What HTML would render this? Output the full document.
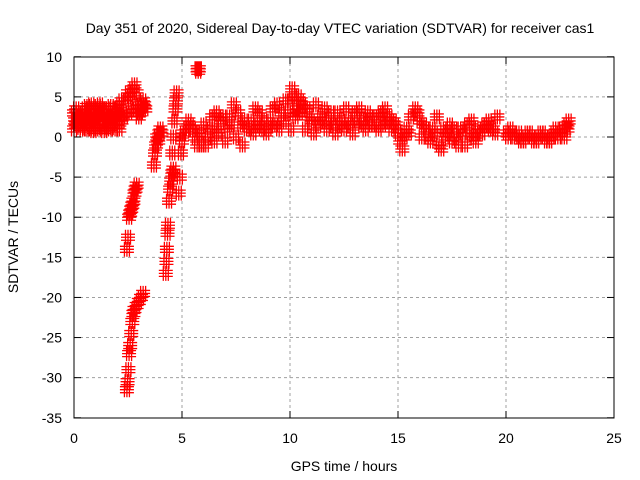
<!DOCTYPE html>
<html><head><meta charset="utf-8"><style>
body{margin:0;background:#fff}
svg{display:block;font-family:"Liberation Sans",sans-serif}
</style></head><body>
<svg id="c" width="640" height="480">
<rect width="640" height="480" fill="#fff"/>
<g id="grid"></g>
<g id="pts"></g>
<rect x="74" y="57" width="540" height="361" fill="none" stroke="#000" stroke-width="1"/>
<g id="ticks"></g>
<text x="340" y="33" text-anchor="middle" font-size="14">Day 351 of 2020, Sidereal Day-to-day VTEC variation (SDTVAR) for receiver cas1</text>
<text x="344" y="471" text-anchor="middle" font-size="14">GPS time / hours</text>
<text transform="translate(18,237) rotate(-90)" text-anchor="middle" font-size="14">SDTVAR / TECUs</text>
</svg>
<script>
const xTicks=[0,5,10,15,20,25];
const yTicks=[-35,-30,-25,-20,-15,-10,-5,0,5,10];
const times=[0,0.1,0.2,0.3,0.4,0.5,0.6,0.7,0.8,0.9,1.0,1.1,1.2,1.3,1.4,1.5,1.6,1.7,1.8,1.9,2.0,2.1,2.2,
0,0.1,0.2,0.3,0.4,0.5,0.6,0.7,0.8,0.9,1.0,1.1,1.2,1.3,1.4,1.5,1.6,1.7,1.8,1.9,2.0,2.1,2.2,
0.05,0.25,0.45,0.65,0.85,1.05,1.25,1.45,1.65,1.85,2.05,
2.3,2.4,2.5,2.6,2.7,2.8,2.9,2.35,2.55,2.75,2.95,3.0,3.1,3.2,3.3,3.05,3.25,
2.45,2.5,2.55,2.6,2.65,2.7,2.75,2.8,2.85,2.9,
2.45,2.48,2.52,2.55,2.6,2.65,2.7,2.75,2.8,2.9,3.0,3.1,3.2,
3.7,3.75,3.8,3.85,3.9,3.95,4.0,4.05,
4.25,4.28,4.3,4.33,4.35,4.4,4.45,4.5,4.55,4.6,
4.55,4.6,4.65,4.7,4.72,4.75,
4.85,4.9,4.95,5.0,5.05,
5.2,5.3,5.4,5.5,5.6,5.72,5.78,5.75,
5.7,5.8,5.9,6.0,6.1,6.2,6.3,6.4,6.5,
6.6,6.8,7.0,7.2,7.4,7.6,7.8,8.0,8.2,8.4,8.6,8.8,9.0,9.2,9.4,9.6,9.8,
6.5,6.7,6.9,7.1,7.3,7.5,7.7,7.9,8.1,8.3,8.5,8.7,8.9,9.1,9.3,9.5,9.7,9.9,
10.0,10.1,10.2,10.3,10.4,10.5,10.05,10.25,10.45,
10.6,10.8,11.0,11.2,11.4,11.6,11.8,12.0,12.2,12.4,12.6,12.8,13.0,13.2,13.4,13.6,13.8,14.0,14.2,14.4,14.6,14.8,
10.7,10.9,11.1,11.3,11.5,11.7,11.9,12.1,12.3,12.5,12.7,12.9,13.1,13.3,13.5,13.7,13.9,14.1,14.3,14.5,14.7,14.9,
15.0,15.1,15.2,15.3,15.4,15.5,15.6,15.8,15.9,
16.0,16.2,16.4,16.6,16.8,17.0,17.2,17.4,17.6,17.8,18.0,18.2,18.4,18.6,18.8,19.0,19.2,19.4,19.6,
16.1,16.3,16.5,16.7,16.9,17.1,17.3,17.5,17.7,17.9,18.1,18.3,18.5,18.7,18.9,19.1,19.3,19.5,
20.0,20.2,20.4,20.6,20.8,21.0,21.2,21.4,21.6,21.8,22.0,22.2,22.4,22.6,22.8,22.9,
20.1,20.3,20.5,20.7,20.9,21.1,21.3,21.5,21.7,21.9,22.1,22.3,22.5,22.7,22.85];
const values=[3,3.5,3,2.5,3,3.5,3.8,3.5,4,3.5,3,3.8,4,3.5,3,3.5,3,3.8,3.5,3,3.5,4,4.5,
1,1.5,2,1.2,1,1.5,1,1.8,1,0.8,1.5,1,2,1.2,0.8,1.5,1,1.2,2,1,1.5,1,2,
2,2.5,2,2.5,2.2,2.5,3,2,2.5,2.3,2.8,
3,4.5,5.5,5,6,6.5,5.5,2.5,3,3.5,4,2.5,3.5,4.5,3.5,3,4,
-14,-12.5,-10,-9.5,-9,-8.5,-8,-7,-6.5,-6,
-31.5,-30.5,-29,-27,-26,-24.5,-23,-22,-21.5,-21,-20.5,-20,-19.5,
-3.5,-2,-1,0,-0.5,0.5,1,0.5,
-17,-15.5,-14,-12,-11,-8,-6.5,-5.5,-4.5,-4,
-2,0,2,3.5,4.5,5.5,
-7,-5,-2,-0.5,0.5,
1,2,1.5,1,0,8.5,8.5,8.2,
-1,0.5,-1,1.5,-1,0,1,2.5,-0.5,
3,2,-0.5,2.5,4,3,-1,1,2,3.5,3,2,1,3.5,4,3,4.5,
1,0.5,2.5,1,1.5,0,1.5,2,1,0.5,1.5,1,0.5,2,1.5,1,2,3,
4.5,6,5,3.5,5,4.5,1,2.5,3,
4,3.5,2,4,2.5,3.5,2,1.5,3,2,3.5,1.5,3,3.5,2,3,1.5,2.5,3,3.5,2.5,2,
1,2.5,0.5,1.5,2,1,3,0.5,1.5,1,2,0.5,2,1.5,1,2.5,1.5,1,1.5,2,1,1.5,
0.5,-0.5,-1.5,0,1,0.5,2.5,3.5,3,
2,1.5,0,1,2.5,-1.5,0,1.5,1,-1,0.5,1.5,2,-0.5,0.5,1.5,2,1,2.5,
0,1,-0.5,0.5,-1,1,0.5,-0.5,0,1,-1,0.5,0,1,0.5,1.5,1,0.5,
0.5,1,0,0.5,-0.5,0.5,0,-0.5,0.5,0,-0.5,0.5,0,1,1.5,2,
0,0.5,0,-0.5,0,0.5,-0.5,0,0.5,-0.5,0,1,0.5,0,1];
const X=t=>74+t*(540/25);
const Y=v=>137-v*(361/45);
const ns="http://www.w3.org/2000/svg";
const grid=document.getElementById('grid'),ticks=document.getElementById('ticks'),pts=document.getElementById('pts');
function mk(tag,at,parent){const e=document.createElementNS(ns,tag);for(const k in at)e.setAttribute(k,at[k]);parent.appendChild(e);return e;}
xTicks.forEach(t=>{
  if(t>0&&t<25){const g=mk('line',{x1:X(t),x2:X(t),y1:57,y2:418,stroke:'#a0a0a0','stroke-dasharray':'3,3'},grid);
  
  }
  const l=mk('line',{x1:X(t),x2:X(t),y1:418,y2:411,stroke:'#000'},ticks);
  
  
  const l2=mk('line',{x1:X(t),x2:X(t),y1:57,y2:64,stroke:'#000'},ticks);
  
  
  const tx=mk('text',{x:X(t),y:443,'text-anchor':'middle','font-size':14},ticks);tx.textContent=t;
  
  
});
yTicks.forEach(v=>{
  if(v>-35&&v<10){const g=mk('line',{x1:74,x2:614,y1:Y(v),y2:Y(v),stroke:'#a0a0a0','stroke-dasharray':'3,3'},grid);
  
  }
  const l=mk('line',{x1:74,x2:81,y1:Y(v),y2:Y(v),stroke:'#000'},ticks);
  
  
  const l2=mk('line',{x1:607,x2:614,y1:Y(v),y2:Y(v),stroke:'#000'},ticks);
  
  
  const tx=mk('text',{x:62,y:Y(v)+5,'text-anchor':'end','font-size':14},ticks);tx.textContent=v;
  
  
});
let d='';
for(let i=0;i<times.length;i++){
  const x=X(times[i]),y=Y(values[i]);
  for(let j=-1;j<=1;j++){for(let k=-1;k<=1;k++){const xx=x+j*2.5,yy=y+k*3;d+=`M${xx-4.5},${yy}h9M${xx},${yy-4.5}v9`;}}
}
const p=mk('path',{d:d,stroke:'#ff0000','stroke-width':1.3,fill:'none'},pts);


</script>
</body></html>
